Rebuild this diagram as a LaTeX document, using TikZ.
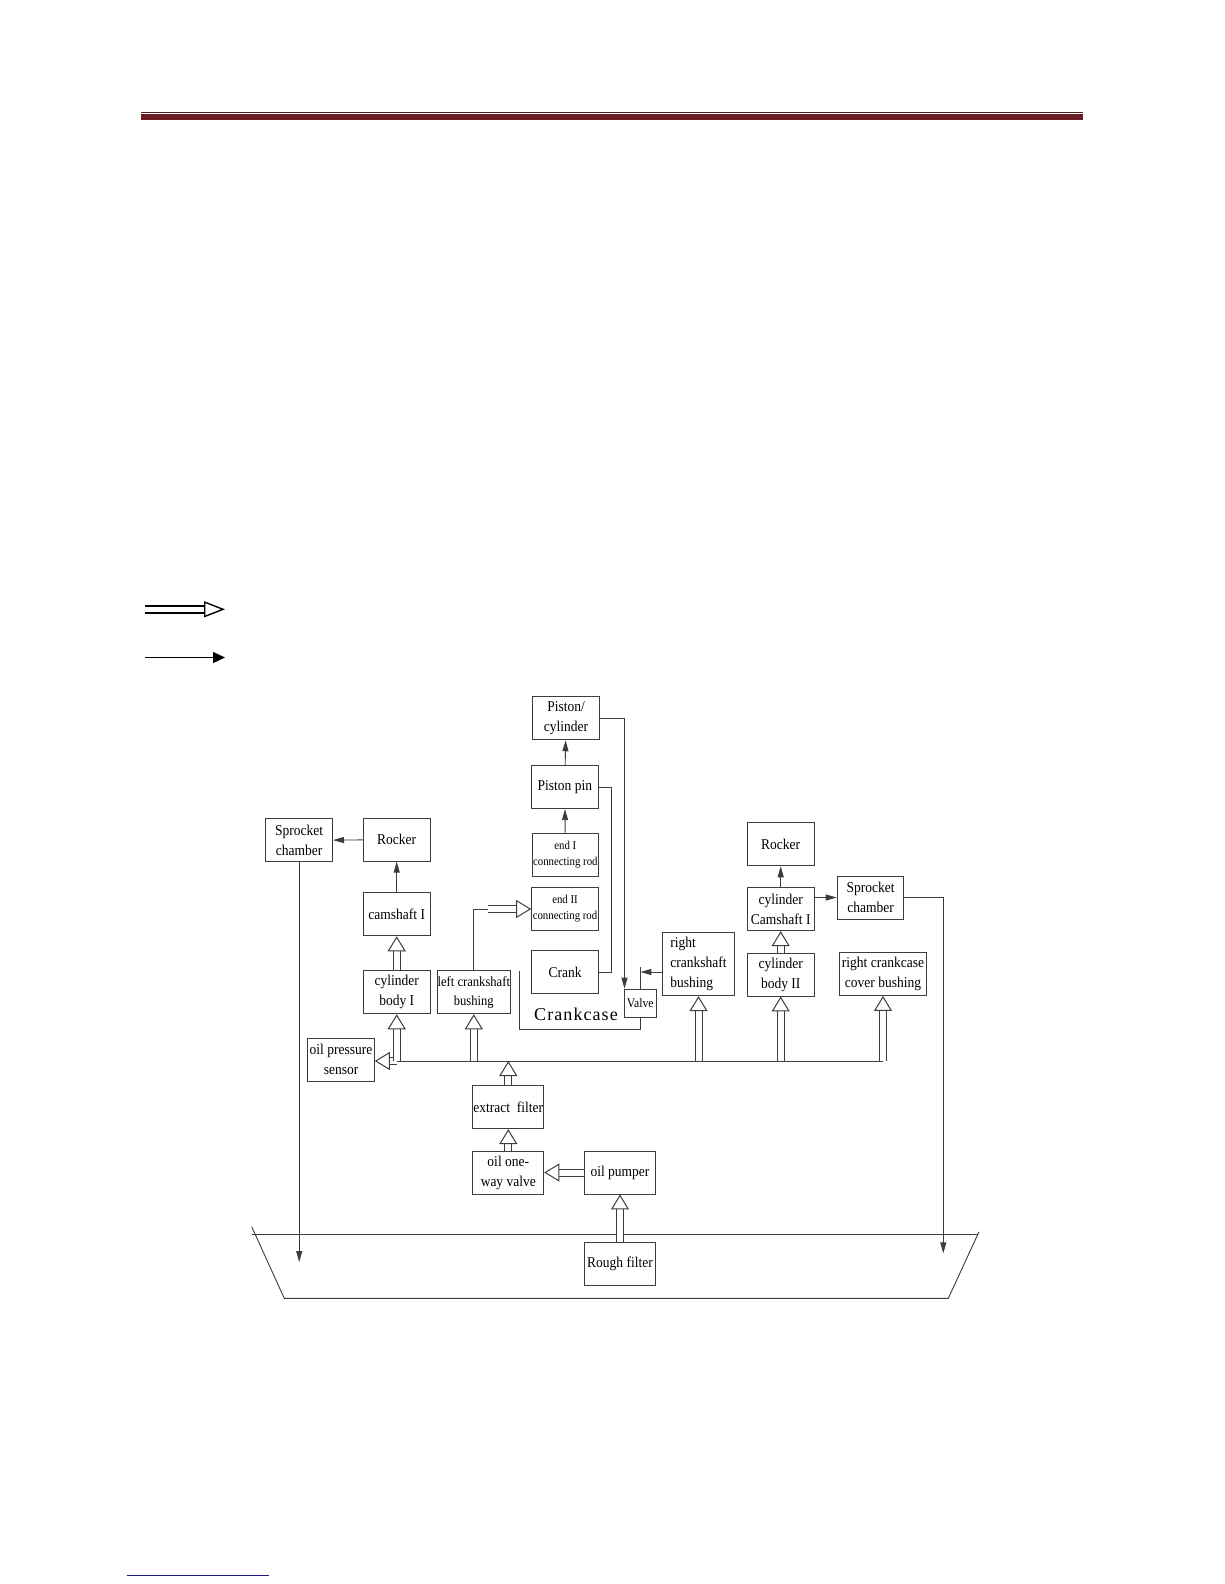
\documentclass[tikz,border=0pt]{standalone}
\usepackage{fontspec}
\setmainfont{Liberation Serif}[FakeStretch=0.9]
\newfontfamily\casefont{Liberation Serif}[LetterSpace=6]
\usetikzlibrary{arrows.meta}

\definecolor{ink}{HTML}{3C3C3C}
\definecolor{barred}{HTML}{6A1F27}
\definecolor{barline}{HTML}{4A2226}
\definecolor{linkblue}{HTML}{1A1A8C}

\begin{document}
\begin{tikzpicture}[
  x=1pt, y=-1pt,
  every node/.style={font=\fontsize{15}{20}\selectfont},
  box/.style={
    draw=ink,
    line width=0.9pt,
    minimum width=66.7pt,
    minimum height=43pt,
    inner sep=0pt,
    align=center
  },
  widebox/.style={box, minimum width=71pt},
  small/.style={font=\fontsize{12}{16}\selectfont},
  wire/.style={draw=ink, line width=0.9pt},
  arr/.style={wire, -{Triangle[length=11pt, width=6pt]}},
  hol/.style={
    draw=ink,
    line width=1pt,
    double=white,
    double distance=6pt,
    -{Triangle[open, length=15pt, width=18pt, line width=1pt 0 0]}
  },
]

\fill[white] (0,0) rectangle (1224,1584);

% Page rules.
\fill[barline] (141,111.8) rectangle (1082.7,112.8);
\fill[barred] (141,114.3) rectangle (1082.7,119.7);
\draw[linkblue, line width=1pt] (126.7,1575) -- (269.3,1575);

% Legend.
\coordinate (legHa) at (145,609.3);
\coordinate (legHb) at (225,609.3);
\coordinate (legSa) at (145,657.5);
\coordinate (legSb) at (225,657.5);
\draw[hol, draw=black, line width=1.4pt, double distance=5.6pt,
  -{Triangle[open, length=21pt, width=16pt, line width=1.4pt 0 0]}] (legHa) -- (legHb);
\draw[black, line width=1.2pt, -{Triangle[length=12pt, width=11pt]}] (legSa) -- (legSb);

% Oil pan.
\draw[wire] (251.7,1234.3) -- (978.3,1234.3);
\draw[wire] (251.7,1226.7) -- (284.3,1298.3) -- (948.3,1298.3) -- (979,1231.7);

% Piston column.
\node[box] (pc) at (566,718.3) {Piston/\\cylinder};
\node[box] (pin) at (564.8,787.2) {Piston pin};
\node[box, small] (rod1) at (565.3,854.5) {end I\\connecting rod};
\node[box, small] (rod2) at (565,909) {end II\\connecting rod};
\node[box] (crank) at (565,972) {Crank};

% Left cylinder head.
\node[box] (spL) at (299.2,840.3) {Sprocket\\chamber};
\node[box] (rockL) at (396.7,839.7) {Rocker};
\node[box] (camL) at (396.7,914.3) {camshaft I};
\node[box] (bodyL) at (396.7,992.3) {cylinder\\body I};
\node[widebox, font=\fontsize{14}{19}\selectfont] (lcb) at (473.8,992.3) {left crankshaft\\bushing};

% Crankcase and valve.
\node[box, minimum width=32.7pt, minimum height=28.3pt, font=\fontsize{13}{16}\selectfont] (valve) at (640.3,1003.2) {Valve};
\node[font=\casefont\fontsize{18}{22}\selectfont] (case) at (576,1014) {Crankcase};

% Right side.
\node[box, minimum width=71.6pt, minimum height=63pt, align=left] (rcb) at (698.5,964.2) {right\\crankshaft\\bushing};
\node[box] (rockR) at (780.7,844.3) {Rocker};
\node[box] (camR) at (780.7,909.2) {cylinder\\Camshaft I};
\node[box] (spR) at (870.5,897.5) {Sprocket\\chamber};
\node[box] (bodyR) at (780.7,974.5) {cylinder\\body II};
\node[box, minimum width=87.4pt] (rccb) at (883,974) {right crankcase\\cover bushing};

% Supply side.
\node[box] (sensor) at (341,1059.7) {oil pressure\\sensor};
\node[widebox] (extract) at (508.3,1107.2) {extract\ \ filter};
\node[widebox] (oneway) at (508.3,1172.5) {oil one-\\way valve};
\node[widebox] (pump) at (620,1172.5) {oil pumper};
\node[widebox] (rough) at (620,1263.7) {Rough filter};

% Main gallery.
\coordinate (busL) at (397,1061);
\coordinate (busR) at (883,1061);
\draw[wire] (busL) -- (busR);

\draw[hol] (rough.north) -- (pump.south);
\draw[hol] (pump.west) -- (oneway.east);
\draw[hol] (oneway.north) -- (extract.south);
\draw[hol] (extract.north) -- (extract.north |- busL);
\draw[hol] (busL) -- (sensor.east |- busL);
\draw[hol] (bodyL.south |- busL) -- (bodyL.south);
\draw[hol] (lcb.south |- busL) -- (lcb.south);
\draw[hol] (rcb.south |- busL) -- (rcb.south);
\draw[hol] (bodyR.south |- busL) -- (bodyR.south);
\draw[hol] (rccb.south |- busL) -- (rccb.south);
\draw[hol] (bodyL.north) -- (camL.south);
\draw[hol] (bodyR.north) -- (camR.south);

\coordinate (bend) at (488.3,909);
\draw[wire] (lcb.north) |- (bend);
\draw[hol] (bend) -- (rod2.west);

% Solid feeds.
\draw[arr] (camL) -- (rockL);
\draw[arr] (rockL) -- (spL);
\draw[arr] (camR) -- (rockR);
\draw[arr] (camR.east |- spR.west) -- (spR.west);
\draw[arr] (rod1) -- (pin);
\draw[arr] (pin) -- (pc);
\draw[arr] (pc.east) -| ([xshift=1pt]valve.north west);
\draw[wire] (pin.east) -- ++(13,0) |- (crank.east);
\draw[arr] (rcb.west |- crank.east) -- (valve.north |- crank.east);
\draw[wire] (valve.north) -- ++(0,-22);

\coordinate (caseTop) at (519.3,970.7);
\draw[wire] (caseTop) -- ++(0,58.3) -| (valve.south);

% Returns to the pan.
\coordinate (dropL) at (299.2,1262);
\coordinate (dropR) at (943.3,1253.3);
\draw[arr] (spL.south) -- (dropL);
\draw[arr] (spR.east) -| (dropR);

\end{tikzpicture}
\end{document}
